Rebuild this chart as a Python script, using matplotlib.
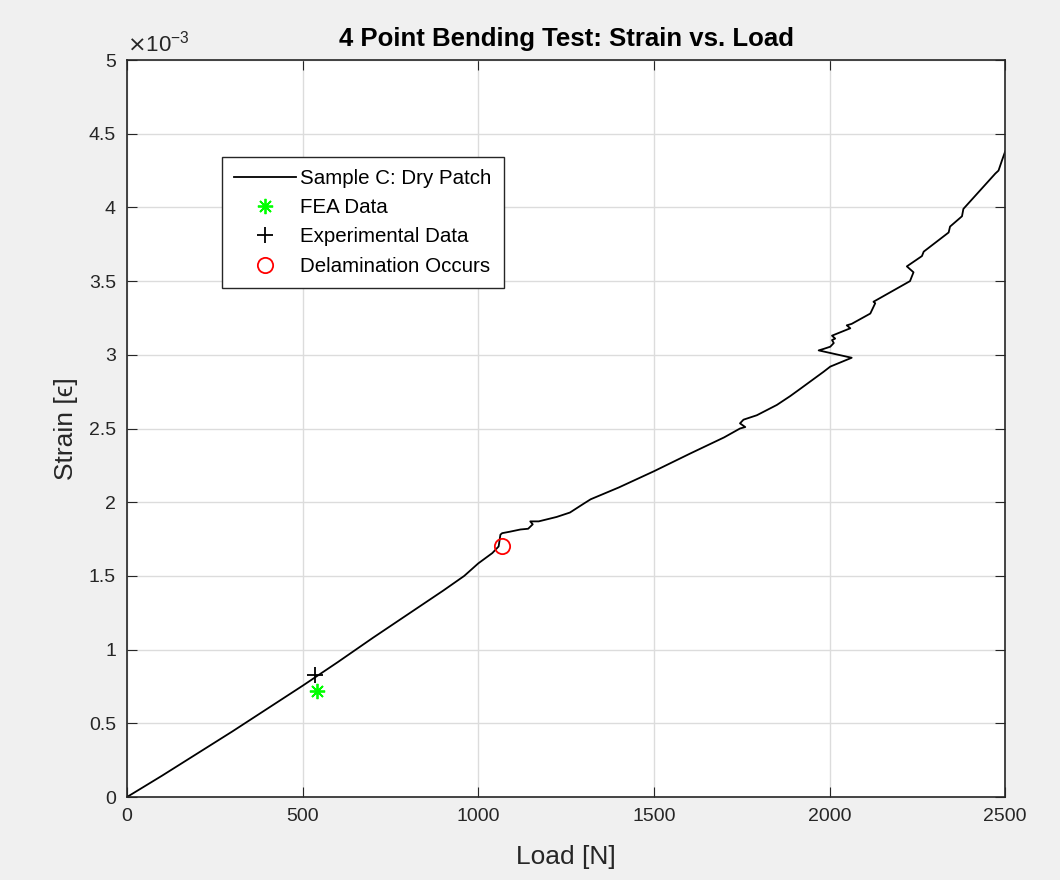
import matplotlib.pyplot as plt
from matplotlib.ticker import ScalarFormatter

# Sample C load vs strain curve (strain in units of 1e-3)
load = [0, 100, 200, 300, 400, 500, 600, 700, 800, 900, 960, 1000, 1040, 1058,
        1063, 1068, 1090, 1120, 1142, 1155, 1148, 1172, 1223, 1261, 1300, 1320,
        1400, 1500, 1603, 1700, 1745, 1760, 1745, 1755, 1793, 1850, 1888, 1917,
        1983, 2002, 2063, 1969, 1983, 2002, 2012, 2007, 2016, 2007, 2059, 2049,
        2063, 2116, 2130, 2125, 2229, 2239, 2220, 2263, 2268, 2339, 2343, 2377,
        2381, 2472, 2481, 2491, 2500]
strain = [0, 0.145, 0.295, 0.445, 0.60, 0.755, 0.915, 1.08, 1.24, 1.40, 1.50, 1.585, 1.655, 1.70,
          1.78, 1.79, 1.80, 1.815, 1.82, 1.85, 1.87, 1.87, 1.90, 1.93, 1.99, 2.02,
          2.10, 2.21, 2.33, 2.44, 2.50, 2.51, 2.535, 2.56, 2.59, 2.66, 2.72, 2.77,
          2.885, 2.92, 2.98, 3.03, 3.04, 3.055, 3.08, 3.10, 3.11, 3.13, 3.18, 3.20,
          3.21, 3.28, 3.35, 3.36, 3.50, 3.56, 3.60, 3.67, 3.70, 3.83, 3.87, 3.94,
          3.99, 4.23, 4.25, 4.32, 4.38]

fea_load = [540]
fea_strain = [0.72]
exp_load = [535]
exp_strain = [0.83]
delam_load = [1068]
delam_strain = [1.70]

plt.rcParams['font.family'] = ['Liberation Sans', 'DejaVu Sans']

fig = plt.figure(figsize=(10.6, 8.8), dpi=100, facecolor='#f0f0f0')
ax = fig.add_axes([0.1198, 0.0943, 0.8285, 0.8375])

sc = 1e-3
ax.plot(load, [s * sc for s in strain], color='black', lw=1.3, label='Sample C: Dry Patch')
ax.plot(fea_load, [s * sc for s in fea_strain], ls='none', marker=(8, 2, 0), ms=11,
        mec='#00ff00', mew=1.3, label='FEA Data')
ax.plot(exp_load, [s * sc for s in exp_strain], ls='none', marker='+', ms=12,
        mec='black', mew=1.3, label='Experimental Data')
ax.plot(delam_load, [s * sc for s in delam_strain], ls='none', marker='o', ms=11,
        mfc='none', mec='#ff0000', mew=1.3, label='Delamination Occurs')

ax.set_xlim(0, 2500)
ax.set_ylim(0, 5e-3)
ax.set_xticks([0, 500, 1000, 1500, 2000, 2500])
ax.set_yticks([i * 0.5e-3 for i in range(11)])

fmt = ScalarFormatter(useMathText=True)
fmt.set_powerlimits((-3, -3))
ax.yaxis.set_major_formatter(fmt)
ax.set_yticklabels(['0', '0.5', '1', '1.5', '2', '2.5', '3', '3.5', '4', '4.5', '5'])
ax.text(0.0, 1.005, r'$\times\mathregular{10^{-3}}$', transform=ax.transAxes,
        fontsize=16, color='#262626', ha='left', va='bottom')

ax.grid(True, color='#dcdcdc', lw=1)
ax.set_axisbelow(True)
ax.tick_params(direction='in', length=7, labelsize=14, colors='#262626', top=True, right=True,
               labeltop=False, labelright=False, pad=8)
for s in ax.spines.values():
    s.set_color('#262626')
    s.set_linewidth(1.2)

ax.set_xlabel('Load [N]', fontsize=19, color='#262626', labelpad=14)
ax.set_ylabel('Strain [ϵ]', fontsize=19, color='#262626', labelpad=8,
              family=['Liberation Sans', 'DejaVu Sans'])
ax.set_title('4 Point Bending Test: Strain vs. Load', fontsize=18.5, fontweight='bold', pad=10)

leg = ax.legend(loc='upper left', bbox_to_anchor=(0.108, 0.869), fontsize=14.8,
                fancybox=False, framealpha=1, edgecolor='#262626', borderpad=0.6,
                labelspacing=0.5, handlelength=3.0, handletextpad=0.2, borderaxespad=0)
leg.get_frame().set_linewidth(1.0)

fig.savefig('out.png', dpi=100, facecolor=fig.get_facecolor())
